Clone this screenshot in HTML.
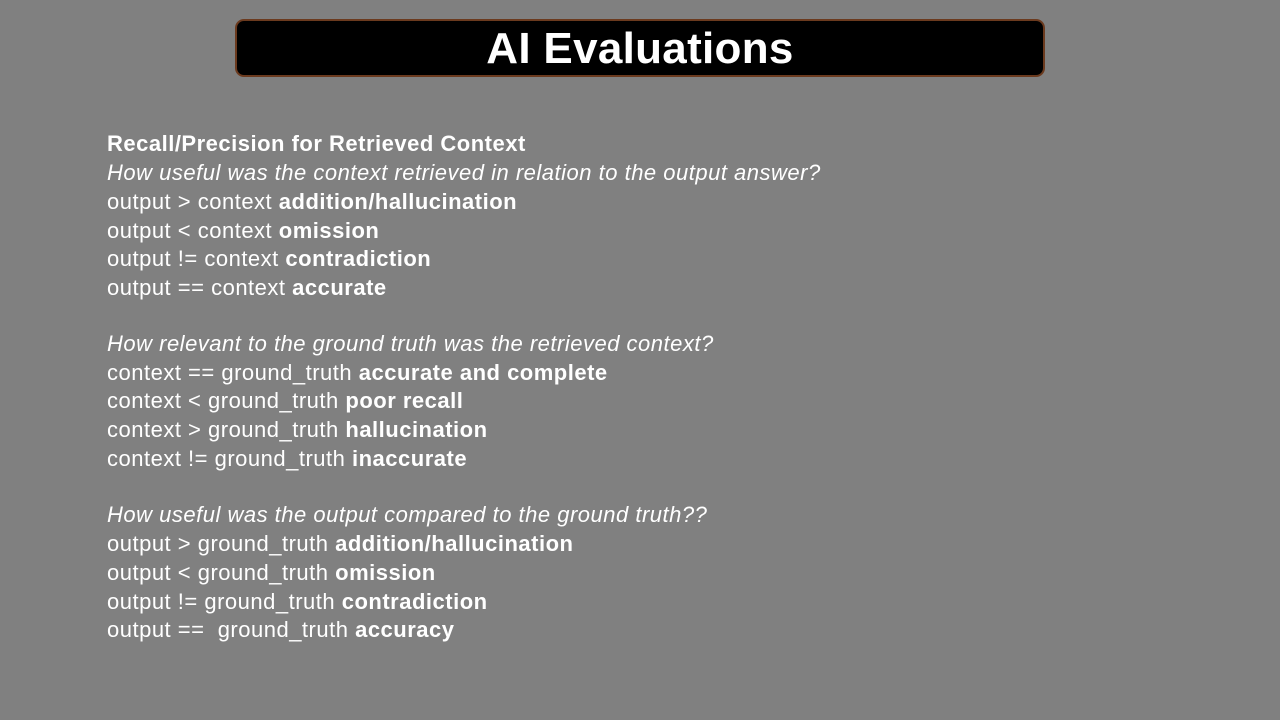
<!DOCTYPE html>
<html><head><style>
html,body{margin:0;padding:0}
body{width:1280px;height:720px;background:#808080;position:relative;overflow:hidden;font-family:"Liberation Sans",sans-serif;color:#fff}
.t{position:absolute;left:235px;top:19px;width:806px;height:54px;background:#000;border:2px solid #6b3a1e;border-radius:9px;text-align:center;font-weight:bold;font-size:44px;line-height:56px;letter-spacing:0.3px}
.l{position:absolute;left:107px;font-size:22px;line-height:28px;white-space:pre;letter-spacing:0.5px}
i{font-style:italic}
</style></head><body>
<div class="t">AI Evaluations</div>
<div class="l" style="top:130px"><b>Recall/Precision for Retrieved Context</b></div>
<div class="l" style="top:159px"><i>How useful was the context retrieved in relation to the output answer?</i></div>
<div class="l" style="top:188px">output &gt; context <b>addition/hallucination</b></div>
<div class="l" style="top:217px">output &lt; context <b>omission</b></div>
<div class="l" style="top:245px">output != context <b>contradiction</b></div>
<div class="l" style="top:274px">output == context <b>accurate</b></div>
<div class="l" style="top:330px"><i>How relevant to the ground truth was the retrieved context?</i></div>
<div class="l" style="top:359px">context == ground_truth <b>accurate and complete</b></div>
<div class="l" style="top:387px">context &lt; ground_truth <b>poor recall</b></div>
<div class="l" style="top:416px">context &gt; ground_truth <b>hallucination</b></div>
<div class="l" style="top:445px">context != ground_truth <b>inaccurate</b></div>
<div class="l" style="top:501px"><i>How useful was the output compared to the ground truth??</i></div>
<div class="l" style="top:530px">output &gt; ground_truth <b>addition/hallucination</b></div>
<div class="l" style="top:559px">output &lt; ground_truth <b>omission</b></div>
<div class="l" style="top:588px">output != ground_truth <b>contradiction</b></div>
<div class="l" style="top:616px">output ==  ground_truth <b>accuracy</b></div>
</body></html>
